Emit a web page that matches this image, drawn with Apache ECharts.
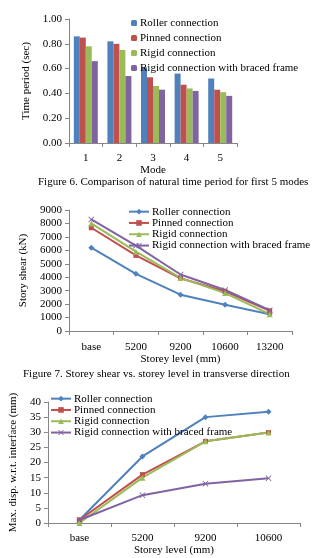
<!DOCTYPE html>
<html>
<head>
<meta charset="utf-8">
<script src="https://cdn.jsdelivr.net/npm/echarts@6/dist/echarts.min.js"></script>
<style>
html, body { margin: 0; padding: 0; background: #fff; }
#chart { width: 314px; height: 558px; }
</style>
</head>
<body>
<div id="chart"></div>
<script>
// series labels, shared by the three figures
const seriesLabels = ['Roller connection', 'Pinned connection', 'Rigid connection', 'Rigid connection with braced frame'];
const colors = ['#4F81BD', '#C0504D', '#9BBB59', '#8064A2'];

// Figure 6 - natural time period (sec)
const modes = ['1', '2', '3', '4', '5'];
const periodRoller = [0.86, 0.82, 0.61, 0.56, 0.52];
const periodPinned = [0.85, 0.80, 0.53, 0.47, 0.43];
const periodRigid = [0.78, 0.75, 0.46, 0.44, 0.41];
const periodBraced = [0.66, 0.54, 0.43, 0.42, 0.38];

// Figure 7 - storey shear (kN)
const shearLevels = ['base', '5200', '9200', '10600', '13200'];
const shearRoller = [6200, 4250, 2700, 1950, 1250];
const shearPinned = [7680, 5620, 3920, 2950, 1500];
const shearRigid = [8000, 5900, 3950, 2820, 1250];
const shearBraced = [8300, 6350, 4200, 3050, 1550];

// Figure 8 - max displacement (mm)
const dispLevels = ['base', '5200', '9200', '10600'];
const dispRoller = [1, 22, 35, 36.8];
const dispPinned = [1, 16, 27, 29.9];
const dispRigid = [0, 15, 27, 29.9];
const dispBraced = [1, 9.2, 13, 14.8];

const font = 'Liberation Serif';
const axisGray = '#868686';
const crossSymbol = 'path://M0,1L1,0L5,4L9,0L10,1L6,5L10,9L9,10L5,6L1,10L0,9L4,5Z';
const lineSymbols = ['diamond', 'rect', 'triangle', crossSymbol];
const lineSymbolSizes = [6, 5, 6, 6];

function catAxis(idx, data, name, margin, gap) {
  return {
    type: 'category', gridIndex: idx, data: data,
    name: name, nameLocation: 'middle', nameGap: gap,
    nameTextStyle: { fontFamily: font, fontSize: 11, color: '#000' },
    axisLine: { show: true, lineStyle: { color: axisGray, width: 1 } },
    axisTick: { show: true, alignWithLabel: false, length: 4, lineStyle: { color: axisGray } },
    axisLabel: { fontFamily: font, fontSize: 11, color: '#000', margin: margin, interval: 0 },
    splitLine: { show: false }
  };
}

function valAxis(idx, max, interval, name, gap, fmt) {
  return {
    type: 'value', gridIndex: idx, min: 0, max: max, interval: interval,
    name: name, nameLocation: 'middle', nameGap: gap, nameRotate: 90,
    nameTextStyle: { fontFamily: font, fontSize: 11, color: '#000' },
    axisLine: { show: true, lineStyle: { color: axisGray, width: 1 } },
    axisTick: { show: true, length: 4, inside: false, lineStyle: { color: axisGray } },
    axisLabel: { fontFamily: font, fontSize: 11, color: '#000', margin: 7, formatter: fmt },
    splitLine: { show: false }
  };
}

function legendBox(idx, left, top, isBar) {
  return {
    orient: 'vertical', left: left, top: top,
    data: seriesLabels.map(s => s + '|' + idx),
    formatter: n => n.split('|')[0],
    itemWidth: isBar ? 6 : 20, itemHeight: isBar ? 6 : 7,
    itemGap: isBar ? 3 : 0,
    padding: 0,
    selectedMode: false,
    textStyle: { fontFamily: font, fontSize: 11, color: '#000', padding: [0, 0, 0, -2], lineHeight: isBar ? 12 : 11.3 }
  };
}

const periodData = [periodRoller, periodPinned, periodRigid, periodBraced];
const shearData = [shearRoller, shearPinned, shearRigid, shearBraced];
const dispData = [dispRoller, dispPinned, dispRigid, dispBraced];

const series = [];
periodData.forEach((d, i) => {
  series.push({
    name: seriesLabels[i] + '|0', type: 'bar', xAxisIndex: 0, yAxisIndex: 0,
    data: d, barWidth: 6, barGap: '0%', itemStyle: { color: colors[i] }
  });
});
shearData.forEach((d, i) => {
  series.push({
    name: seriesLabels[i] + '|1', type: 'line', xAxisIndex: 1, yAxisIndex: 1,
    data: d, symbol: lineSymbols[i], symbolSize: lineSymbolSizes[i],
    lineStyle: { color: colors[i], width: 2 }, itemStyle: { color: colors[i] }
  });
});
dispData.forEach((d, i) => {
  series.push({
    name: seriesLabels[i] + '|2', type: 'line', xAxisIndex: 2, yAxisIndex: 2,
    data: d, symbol: lineSymbols[i], symbolSize: lineSymbolSizes[i],
    lineStyle: { color: colors[i], width: 2 }, itemStyle: { color: colors[i] }
  });
});

const chart = echarts.init(document.getElementById('chart'));
chart.setOption({
  animation: false,
  backgroundColor: '#fff',
  textStyle: { fontFamily: font },
  title: [
    { text: 'Figure 6. Comparison of natural time period for first 5 modes', left: 38, top: 177, padding: 0,
      textStyle: { fontFamily: font, fontSize: 11, fontWeight: 'normal', color: '#000' } },
    { text: 'Figure 7. Storey shear vs. storey level in transverse direction', left: 23, top: 369, padding: 0,
      textStyle: { fontFamily: font, fontSize: 11, fontWeight: 'normal', color: '#000' } }
  ],
  grid: [
    { left: 69, top: 19, width: 168, height: 124, containLabel: false },
    { left: 69, top: 210, width: 223, height: 121, containLabel: false },
    { left: 44, top: 402, width: 256, height: 121, containLabel: false }
  ],
  xAxis: [
    catAxis(0, modes, 'Mode', 10, 21),
    catAxis(1, shearLevels, 'Storey level (mm)', 11, 21),
    catAxis(2, dispLevels, 'Storey level (mm)', 10, 20)
  ],
  yAxis: [
    valAxis(0, 1, 0.2, 'Time period (sec)', 33, v => v.toFixed(2)),
    valAxis(1, 9000, 1000, 'Story shear (kN)', 40, v => String(v)),
    valAxis(2, 40, 5, 'Max. disp. w.r.t. interface (mm)', 23, v => String(v))
  ],
  legend: [
    legendBox(0, 131, 17, true),
    legendBox(1, 128, 206, false),
    legendBox(2, 50, 393, false)
  ],
  series: series
});
</script>
</body>
</html>
